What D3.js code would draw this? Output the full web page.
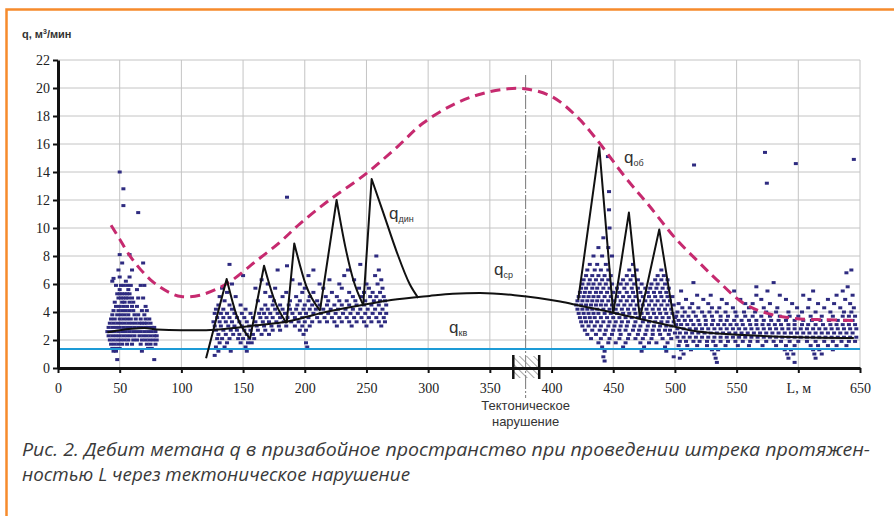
<!DOCTYPE html>
<html>
<head>
<meta charset="utf-8">
<script src="https://cdn.jsdelivr.net/npm/d3@7"></script>
<style>
  body { margin: 0; background: #fff; }
  svg { display: block; }
</style>
</head>
<body>
<div id="chart"></div>
<script>
// ticks
var xTicks = [0, 50, 100, 150, 200, 250, 300, 350, 400, 450, 500, 550, 600, 650]
var yTicks = [0, 2, 4, 6, 8, 10, 12, 14, 16, 18, 20, 22]

// q_об - envelope (dashed)
var qOb = [[43,10.2],[50,9.2],[60,7.8],[75,6.3],[90,5.4],[100,5.1],[115,5.2],[130,5.7],[140,6.2],[160,7.6],[180,9.0],[196,10.3],[220,12.0],[250,13.9],[275,15.8],[296,17.5],[320,18.8],[340,19.5],[360,19.9],[378,19.95],[400,19.4],[420,18.0],[435,16.5],[460,13.6],[480,11.5],[500,9.3],[520,7.5],[534,6.3],[556,4.6],[575,3.9],[596,3.55],[620,3.45],[645,3.4]]

// q_ср - mean
var qSr = [[40,2.55],[50,2.7],[60,2.8],[70,2.85],[80,2.75],[100,2.7],[120,2.7],[142,2.85],[160,3.05],[185,3.3],[212,3.9],[247,4.5],[270,4.85],[301,5.15],[320,5.3],[342,5.35],[370,5.2],[407,4.75],[423,4.45],[450,3.95],[472,3.5],[500,2.95],[512,2.7],[530,2.5],[556,2.35],[600,2.2],[645,2.15]]

// q_дин - sawtooth teeth: rise start, then peak and decay points
var qDinTeeth = [
  [[120,0.7],[136.7,6.36],[145,3.7],[155.6,2.1]],
  [[155.6,2.1],[167,7.3],[176,4.7],[185.3,3.2]],
  [[185.3,3.2],[191.5,8.9],[201,5.9],[212.3,4.1]],
  [[212.3,4.1],[225.8,12.0],[233,8.6],[239,6.4],[247.4,4.5]],
  [[247.4,4.5],[254.2,13.5],[263.6,11.1],[274.5,8.3],[285,6.0],[292,5.0]],
  [[421.6,4.86],[438.7,15.76],[450,3.9]],
  [[450,3.9],[462.7,11.1],[471.6,3.55]],
  [[471.6,3.55],[487.3,9.9],[500,2.95]]
]

// q_кв - constant
var qKv = 1.36

// scatter rows: [q, L, L, ...]
var clusterA = [
  [7.5,52,69],[7.0,49,60],[6.5,50,58],[6.2,44,55],
  [5.9,47,51,53,56,59,67,70],[5.6,50,57,64],[5.3,48,50,52,54,56,58],
  [5.0,49,51,53,55,57,60,65,69],[4.7,46,52,54,58,61],[4.4,47,50,53,56,60,64,71],
  [4.1,45,49,52,55,58,61,68,72],[3.8,44,48,51,54,57,62,65,70],
  [3.5,43,46,50,53,56,59,63,67,71,74],[3.2,42,45,48,51,54,57,60,63,66,68,70,72,75],
  [2.9,41,44,47,50,53,56,59,62,65,68,71,73,76,78],[2.6,40,43,46,49,52,55,58,61,64,67,70,73,76,79],
  [2.3,41,44,47,50,53,56,59,62,66,69,72,75,78,80],[2.0,42,45,48,51,54,57,61,64,68,71,74,77,80],
  [1.7,43,46,49,52,56,60,67,72,75,79],[1.4,44,47,50,73,76],[1.2,45,47,68],[0.6,48,78]
]
var clusterB = [
  [8.0,258],[7.4,139,245],[7.0,178,207,235,260],[6.6,150,203,232,257],[6.3,165,190,220,240,262],
  [6.0,141,170,196,212,228,250,259],[5.7,133,160,176,200,215,230,244,252,263],
  [5.4,137,168,185,198,207,222,236,248,255,261],[5.1,131,144,172,182,193,204,217,226,239,246,253,258,264],
  [4.8,135,162,175,188,196,203,210,219,228,234,241,249,256,261,265],
  [4.5,130,139,148,168,174,180,187,194,200,206,212,218,224,230,236,242,248,254,260,266],
  [4.2,128,134,141,152,165,170,176,182,188,193,199,204,209,215,221,227,233,239,245,251,257,263],
  [3.9,127,132,137,143,149,156,163,167,172,178,184,190,196,201,207,213,219,225,231,237,243,249,255,261,266],
  [3.6,129,134,139,145,151,158,164,169,174,180,186,192,198,203,210,216,222,228,234,240,246,252,258,264],
  [3.3,126,131,136,141,147,153,160,166,171,177,183,189,195,200,206,212,218,224,230,236,242,248,254,260,265],
  [3.0,127,132,138,143,149,155,161,167,173,179,185,192,198,204,226,238,250,262],
  [2.7,128,134,140,145,151,156,162,168,174,180,196,201],[2.4,130,136,142,147,153,158,165,171,199],
  [2.1,129,133,139,146,150,155,159],[1.8,131,137,148,154,157,201],[1.5,128,135,152,202],[1.2,130,140,153],[0.9,127]
]
var clusterC = [
  [9.3,442],[8.6,438,446],[8.0,434,441,449],[7.4,431,437,444,466],[7.0,429,435,440,446,463,469,489],
  [6.6,428,433,438,443,448,461,466,486,491],[6.3,426,431,436,441,446,458,464,470,484,489,494],
  [6.0,425,430,434,439,444,449,456,461,467,473,481,486,492],
  [5.7,424,428,433,437,442,447,453,459,465,470,476,480,485,490,495],
  [5.4,423,427,431,436,440,445,450,455,461,466,472,478,483,488,493],
  [5.1,422,426,430,434,438,443,448,453,458,463,468,474,479,484,489,494,498],
  [4.8,421,425,429,433,437,441,446,451,456,461,466,471,476,481,486,491,496],
  [4.5,420,424,428,432,436,440,444,449,454,459,464,469,474,479,484,489,494,499],
  [4.2,421,425,429,433,437,442,447,452,457,462,467,472,477,482,487,492,497],
  [3.9,422,426,430,434,438,443,448,453,458,463,468,473,478,483,488,493,498],
  [3.6,423,427,431,435,440,445,450,455,460,465,470,475,480,485,490,495,500],
  [3.3,424,428,432,437,442,447,452,457,462,468,474,479,484,489,494,499],
  [3.0,425,430,435,440,446,451,456,461,467,472,478,483,488,493,497],
  [2.7,427,433,439,444,450,455,460,466,471,477,482,487,492,496],
  [2.4,429,436,443,449,456,463,470,476,482,488,495],[2.1,432,440,447,455,462,468,474,481,490,497],
  [1.8,438,446,452,460,472,479,485,494],[1.5,441,458,475,492],[1.2,443,473,493],[0.8,442,499],[0.5,443]
]
var clusterD = [
  [7.0,643],[6.8,639],[6.1,515,580],[5.8,566,640],[5.5,505,548,575,612,636],
  [5.2,518,529,566,585,604,631,644],[4.9,509,523,538,553,570,590,609,624,638],
  [4.6,503,514,527,542,557,563,577,595,616,629,642],
  [4.3,506,512,519,530,536,547,560,572,583,599,608,621,634,645],
  [4.0,502,508,515,522,528,534,541,549,556,565,574,582,592,603,614,626,637,643],
  [3.7,501,506,511,517,524,530,537,543,550,557,563,570,577,585,593,600,610,619,628,636,641,646],
  [3.4,503,508,513,519,525,531,537,542,548,554,560,566,572,578,584,590,597,604,611,618,625,632,638,644],
  [3.1,501,505,510,515,520,525,530,535,540,545,550,555,561,566,571,576,581,586,592,597,603,608,614,620,626,631,636,641,646],
  [2.8,502,507,512,517,522,527,532,537,542,547,552,557,562,567,572,577,582,587,592,597,602,607,612,617,622,627,632,637,642,647],
  [2.5,500,504,509,514,519,524,529,534,539,544,549,554,559,564,569,574,579,584,589,594,599,604,609,614,619,624,629,634,639,644],
  [2.2,502,507,512,517,522,527,532,537,542,547,552,557,562,567,572,577,582,587,592,597,602,607,612,617,622,627,632,637,642,647],
  [1.9,504,509,515,520,526,531,537,543,549,555,561,567,574,580,586,593,600,607,614,621,628,635,641,646],
  [1.6,503,510,518,526,533,541,551,560,571,582,590,597,610,616,624,631,639],
  [1.3,505,513,530,535,589,594,612,617,628],[1.0,507,532,591,596,613,619],[0.7,504,533,592,614],[0.4,534,597]
]
var outliers = [[50,14],[53,12.8],[53,11.6],[65,11.1],[50,8.1],[58,8.1],[45,6.4],[185.6,12.2],[185.6,7.3],
  [445.7,15.1],[446.6,12.6],[446.6,11.3],[447,10.0],[515.5,14.5],[573,15.4],[574.5,13.2],[598,14.6],[645,14.9]]

// fault zone
var faultL = 379
var faultFrom = 369, faultTo = 390

var W = 894, H = 516
var svg = d3.select('#chart').append('svg')
  .attr('width', W)
  .attr('height', H)
  .style('font-family', 'Liberation Sans, Arial, sans-serif')

var x = d3.scaleLinear().domain([0, 650]).range([58, 860])
var y = d3.scaleLinear().domain([0, 22]).range([368, 60])

// orange frame
svg.append('path')
  .attr('d', `M${W},9.5 H6.5 V${H}`)
  .attr('fill', 'none')
  .attr('stroke', '#f68b2c')
  .attr('stroke-width', 2.5)

// grid
var grid = svg.append('g')
grid.selectAll('.gx').data(xTicks.slice(1)).enter().append('line')
  .attr('x1', d => x(d)).attr('x2', d => x(d))
  .attr('y1', y(0)).attr('y2', y(22))
  .attr('stroke', '#c4c4c4').attr('stroke-width', 1)
grid.selectAll('.gy').data(yTicks.slice(1)).enter().append('line')
  .attr('x1', x(0)).attr('x2', x(650))
  .attr('y1', d => y(d)).attr('y2', d => y(d))
  .attr('stroke', '#c4c4c4').attr('stroke-width', 1)

// fault line
svg.append('line')
  .attr('x1', x(faultL)).attr('x2', x(faultL))
  .attr('y1', 75).attr('y2', 398)
  .attr('stroke', '#777').attr('stroke-width', 1)
  .attr('stroke-dasharray', '14,2,2,2')

// scatter
function rowsToPts(rows) {
  var pts = []
  rows.forEach(function (r) {
    for (var i = 1; i < r.length; i++) pts.push([r[i], r[0]])
  })
  return pts
}
var pts = [].concat(rowsToPts(clusterA), rowsToPts(clusterB), rowsToPts(clusterC), rowsToPts(clusterD), outliers)
svg.append('g').selectAll('rect').data(pts).enter().append('rect')
  .attr('x', d => x(d[0]) - 2)
  .attr('y', d => y(d[1]) - 1.5)
  .attr('width', 4)
  .attr('height', 3)
  .attr('fill', '#2e2b80')

// q_кв
svg.append('line')
  .attr('x1', x(0)).attr('x2', x(650))
  .attr('y1', y(qKv)).attr('y2', y(qKv))
  .attr('stroke', '#1d9bd6').attr('stroke-width', 2)

// q_об
var smooth = d3.line().x(d => x(d[0])).y(d => y(d[1])).curve(d3.curveCatmullRom)
svg.append('path').datum(qOb)
  .attr('d', smooth)
  .attr('fill', 'none')
  .attr('stroke', '#c62a6f')
  .attr('stroke-width', 3)
  .attr('stroke-dasharray', '10,6')

// q_ср
svg.append('path').datum(qSr)
  .attr('d', d3.line().x(d => x(d[0])).y(d => y(d[1])).curve(d3.curveMonotoneX))
  .attr('fill', 'none')
  .attr('stroke', '#111')
  .attr('stroke-width', 2)

// q_дин: straight rise, smooth decay
var decay = d3.line().x(d => x(d[0])).y(d => y(d[1])).curve(d3.curveMonotoneX)
qDinTeeth.forEach(function (t) {
  var rise = 'M' + x(t[0][0]) + ',' + y(t[0][1]) + 'L'
  svg.append('path')
    .attr('d', rise + decay(t.slice(1)).slice(1))
    .attr('fill', 'none')
    .attr('stroke', '#111')
    .attr('stroke-width', 2)
    .attr('stroke-linejoin', 'round')
})

// fault hatched box
var defs = svg.append('defs')
var pat = defs.append('pattern')
  .attr('id', 'hatch').attr('patternUnits', 'userSpaceOnUse')
  .attr('width', 5).attr('height', 5)
  .attr('patternTransform', 'rotate(-45)')
pat.append('line').attr('x1', 0).attr('y1', 0).attr('x2', 0).attr('y2', 5)
  .attr('stroke', '#888').attr('stroke-width', 1.5)
svg.append('rect')
  .attr('x', x(faultFrom)).attr('y', 356)
  .attr('width', x(faultTo) - x(faultFrom)).attr('height', 22)
  .attr('fill', 'url(#hatch)')
;[faultFrom, faultTo].forEach(function (d) {
  svg.append('line')
    .attr('x1', x(d)).attr('x2', x(d))
    .attr('y1', 355).attr('y2', 379)
    .attr('stroke', '#111').attr('stroke-width', 2.5)
})

// axes
var xaxis = d3.axisBottom(x).tickValues(xTicks).tickSize(5).tickSizeOuter(0)
  .tickFormat(d => d === 600 ? 'L, м' : d)
var yaxis = d3.axisLeft(y).tickValues(yTicks).tickSize(5).tickSizeOuter(0)

var gx = svg.append('g').attr('transform', `translate(0,${y(0)})`).call(xaxis)
var gy = svg.append('g').attr('transform', `translate(${x(0)},0)`).call(yaxis)
;[gx, gy].forEach(function (g) {
  g.select('.domain').attr('stroke', '#111').attr('stroke-width', 3)
  g.selectAll('.tick line').attr('stroke', '#111').attr('stroke-width', 2)
  g.selectAll('.tick text')
    .attr('font-family', 'Liberation Serif, Times New Roman, serif')
    .attr('font-size', 14)
    .attr('fill', '#222')
})
gx.selectAll('.tick text').attr('dy', '1.2em')
gy.selectAll('.tick text').attr('x', -8)

// axis title
var yt = svg.append('text').attr('x', 22).attr('y', 38)
  .attr('font-size', 11).attr('font-weight', 'bold').attr('fill', '#333')
yt.append('tspan').text('q, м')
yt.append('tspan').attr('dy', -4).attr('font-size', 7).text('3')
yt.append('tspan').attr('dy', 4).text('/мин')

// series labels
function qLabel(px, py, sub) {
  var t = svg.append('text').attr('x', px).attr('y', py)
    .attr('font-size', 17).attr('fill', '#333')
  t.append('tspan').text('q')
  t.append('tspan').attr('dy', 3).attr('font-size', 9).text(sub)
}
qLabel(389, 219, 'дин')
qLabel(624, 163, 'об')
qLabel(494, 275, 'ср')
qLabel(449, 333, 'кв')

// fault label
svg.append('text').attr('x', x(faultL)).attr('y', 410)
  .attr('text-anchor', 'middle').attr('font-size', 13).attr('fill', '#333')
  .text('Тектоническое')
svg.append('text').attr('x', x(faultL)).attr('y', 426)
  .attr('text-anchor', 'middle').attr('font-size', 13).attr('fill', '#333')
  .text('нарушение')

// caption
var cap = svg.append('g')
  .attr('font-family', 'Open Sans, sans-serif')
  .attr('font-style', 'italic').attr('font-size', 19).attr('fill', '#3a3a3a')
cap.append('text').attr('x', 22).attr('y', 456)
  .attr('textLength', 848).attr('lengthAdjust', 'spacingAndGlyphs')
  .text('Рис. 2. Дебит метана q в призабойное пространство при проведении штрека протяжен-')
cap.append('text').attr('x', 22).attr('y', 481)
  .attr('textLength', 388).attr('lengthAdjust', 'spacingAndGlyphs')
  .text('ностью L через тектоническое нарушение')
</script>
</body>
</html>
